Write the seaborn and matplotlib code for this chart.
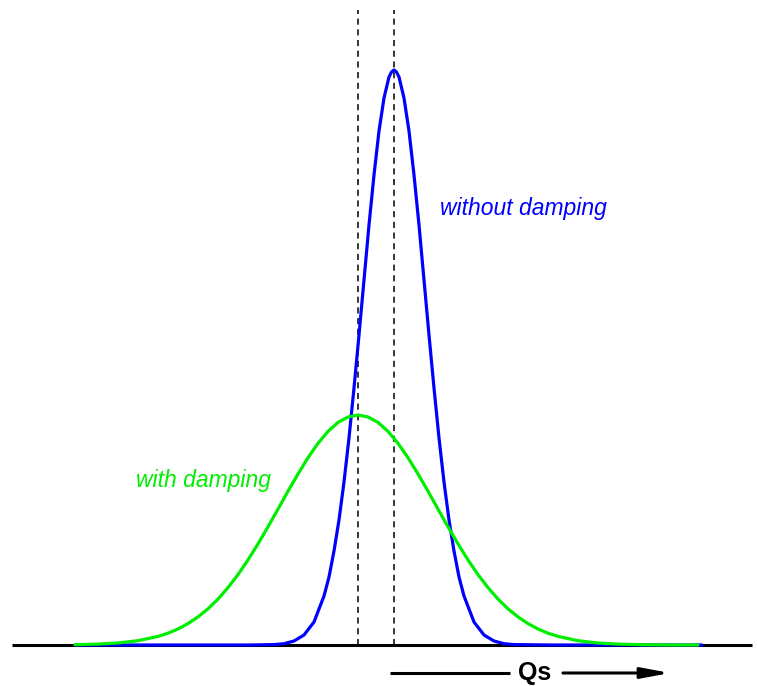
import matplotlib
matplotlib.use('Agg')
import matplotlib.pyplot as plt
import pandas as pd
import seaborn as sns

# Values, in pixel-like units (x across, height above the baseline)
blue_x = [75, 150, 250, 274, 284, 294, 304, 314, 324, 329, 334, 339, 344, 349, 354, 359, 364,
          369, 374, 379, 384, 389, 391.5, 394, 396.5, 399, 404, 409, 414, 419, 424, 429, 434, 439, 444,
          449, 454, 459, 464, 474, 484, 494, 504, 514, 550, 650, 702]
blue_h = [0, 0, 0, 0.4, 1.3, 4, 10, 23, 49, 68, 94, 125, 163, 207, 257, 310, 365,
          420, 470, 514, 547, 568, 573, 575, 573, 568, 547, 514, 470, 420, 365, 310, 257, 207, 163,
          125, 94, 68, 49, 23, 10, 4, 1.3, 0.4, 0, 0, 0]

green_x = [75, 98, 118, 138, 158, 168, 178, 188, 198, 208, 218, 228, 238, 248, 258, 268, 278,
           288, 298, 308, 318, 328, 338, 348, 358, 368, 378, 388, 398, 408, 418, 428, 438,
           448, 458, 468, 478, 488, 498, 508, 518, 528, 538, 548, 558, 578, 598, 618, 641, 670, 698]
green_h = [0.3, 0.9, 2.0, 4.3, 8.6, 11.8, 16.0, 21.4, 28.1, 36.2, 45.9, 57.4, 70.4, 85.1, 101.1, 118.2, 135.9,
           153.8, 171, 187.3, 201.7, 213.6, 222.6, 228, 230, 228, 222.6, 213.6, 201.7, 187.3, 171, 153.8, 135.9,
           118.2, 101.1, 85.1, 70.4, 57.4, 45.9, 36.2, 28.1, 21.4, 16.0, 11.8, 8.6, 4.3, 2.0, 0.9, 0.3, 0, 0]

marker_x = [358, 394]


def main():
    sns.set_style('white')
    plt.rcParams['font.family'] = ['Liberation Sans', 'DejaVu Sans']

    fig = plt.figure(figsize=(7.57, 6.86), dpi=100)
    ax = fig.add_axes([0, 0, 1, 1])
    ax.set_xlim(0, 757)
    ax.set_ylim(-41, 645)
    ax.axis('off')

    # baseline
    ax.plot([12, 752], [0, 0], color='black', lw=2.2, solid_capstyle='butt', zorder=1)

    # dashed markers
    for x in marker_x:
        ax.plot([x, x], [0, 635], color='black', lw=1.1, linestyle=(0, (4, 3)), zorder=2)

    blue = pd.DataFrame({'x': blue_x, 'h': blue_h})
    green = pd.DataFrame({'x': green_x, 'h': green_h})
    sns.lineplot(data=blue, x='x', y='h', color='#0000ff', lw=2.3, ax=ax, zorder=3)
    sns.lineplot(data=green, x='x', y='h', color='#00ee00', lw=2.3, ax=ax, zorder=4)

    ax.text(523, 645 - 209, 'without damping', color='#0000ff', fontsize=16.5,
            style='italic', ha='center', va='center')
    ax.text(203, 645 - 480, 'with damping', color='#00ee00', fontsize=16.5,
            style='italic', ha='center', va='center')

    # Qs arrow
    ax.plot([390, 510], [-28, -28], color='black', lw=2.2, solid_capstyle='butt')
    ax.text(535, -28, 'Qs', color='black', fontsize=18, fontweight='bold',
            ha='center', va='center')
    ax.annotate('', xy=(670, -28), xytext=(563, -28),
                arrowprops=dict(arrowstyle='-|>,head_length=0.85,head_width=0.16',
                                lw=2.2, color='black', mutation_scale=20,
                                shrinkA=0, shrinkB=0))

    fig.savefig('out.png', dpi=100)


if __name__ == '__main__':
    main()
